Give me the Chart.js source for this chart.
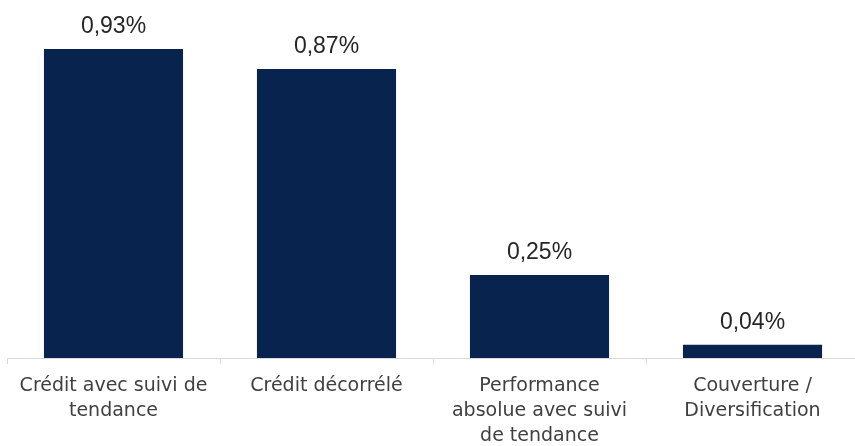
<!DOCTYPE html>
<html>
<head>
<meta charset="utf-8">
<script src="https://cdn.jsdelivr.net/npm/chart.js@4.4.1/dist/chart.umd.min.js"></script>
<style>
  html, body { margin: 0; padding: 0; background: #ffffff; overflow: hidden; }
  #clip { width: 855px; height: 446px; overflow: hidden; position: relative; }
  #wrap { width: 859px; height: 446px; position: relative; }
</style>
</head>
<body>
<div id="clip"><div id="wrap"><canvas id="c"></canvas></div></div>
<script>
const categories = [
  ["Crédit avec suivi de", "tendance"],
  ["Crédit décorrélé"],
  ["Performance", "absolue avec suivi", "de tendance"],
  ["Couverture /", "Diversification"]
];
const values = [0.93, 0.87, 0.25, 0.04];
const valueLabels = ["0,93%", "0,87%", "0,25%", "0,04%"];

const tickFont = "'DejaVu Sans', 'Liberation Sans', sans-serif";
const valueFont = "'Liberation Sans', 'DejaVu Sans', sans-serif";

const valueLabelPlugin = {
  id: 'valueLabels',
  afterDatasetsDraw(chart) {
    const ctx = chart.ctx;
    const meta = chart.getDatasetMeta(0);
    ctx.save();
    ctx.fillStyle = '#262626';
    ctx.font = '23px ' + valueFont;
    ctx.textAlign = 'center';
    ctx.textBaseline = 'alphabetic';
    meta.data.forEach((bar, i) => {
      ctx.fillText(valueLabels[i], bar.x, bar.y - 16);
    });
    ctx.restore();
  }
};

new Chart(document.getElementById('c'), {
  type: 'bar',
  data: {
    labels: categories,
    datasets: [{
      data: values,
      backgroundColor: '#08244e',
      categoryPercentage: 0.653,
      barPercentage: 1.0
    }]
  },
  options: {
    responsive: true,
    maintainAspectRatio: false,
    animation: false,
    events: [],
    layout: { padding: { left: 7, right: 0, top: 0, bottom: 0 } },
    plugins: { legend: { display: false }, tooltip: { enabled: false } },
    scales: {
      y: {
        display: false,
        min: 0,
        max: 1.0775
      },
      x: {
        afterFit(scale) { scale.height = 88; },
        border: { display: true, color: '#d9d9d9', width: 1 },
        grid: { display: true, drawOnChartArea: false, drawTicks: true, tickLength: 6, color: '#d9d9d9', offset: true },
        ticks: {
          color: '#404040',
          font: { family: tickFont, size: 19, lineHeight: 1.316 },
          maxRotation: 0,
          autoSkip: false,
          padding: 10
        }
      }
    }
  },
  plugins: [valueLabelPlugin]
});
</script>
</body>
</html>
